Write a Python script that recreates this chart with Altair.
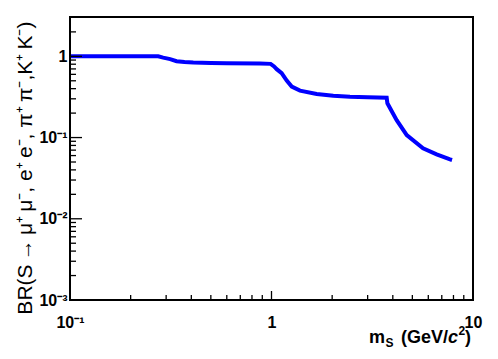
import altair as alt
import pandas as pd

# ---- data ----
m_values = [0.1, 0.274, 0.29, 0.314, 0.338, 0.37, 0.409, 0.5, 0.6, 0.877, 0.99,
            1.03, 1.061, 1.123, 1.19, 1.26, 1.385, 1.676, 2.026, 2.45, 3.0, 3.73,
            3.76, 4.18, 4.69, 5.65, 6.6, 7.69, 7.87]
br_values = [1.0, 1.0, 0.965, 0.924, 0.872, 0.85, 0.838, 0.828, 0.822, 0.815, 0.808,
             0.75, 0.695, 0.621, 0.503, 0.424, 0.378, 0.344, 0.328, 0.319, 0.314, 0.310,
             0.264, 0.164, 0.107, 0.0736, 0.062, 0.0538, 0.0529]

y_major = [0.001, 0.01, 0.1, 1]
y_major_labels = ["10⁻³", "10⁻²", "10⁻¹", "1"]
y_minor = [k * d for d in [0.001, 0.01, 0.1] for k in range(2, 10)] + [2]
x_major = [0.1, 1, 10]
x_major_labels = ["10⁻¹", "1", "10"]
x_minor = [k * d for d in [0.1, 1] for k in range(2, 10)]

y_title = "BR(S\u2009→\u2009μ⁺\u2009μ⁻, e⁺\u2009e⁻, π⁺\u2009π⁻,K⁺\u2009K⁻)"

W, H = 403, 283
FONT = "Liberation Sans"

xscale = alt.Scale(type="log", domain=[0.1, 10], nice=False)
yscale = alt.Scale(type="log", domain=[0.001, 3.05], nice=False)


def label_expr(vals, labels):
    expr = "''"
    for v, l in zip(vals, labels):
        expr = f"datum.value == {v} ? '{l}' : ({expr})"
    return expr


xaxis = alt.Axis(values=x_major, labelExpr=label_expr(x_major, x_major_labels),
                 ticks=False, tickSize=0, domain=False, grid=False,
                 labelFont=FONT, labelFontWeight="bold", labelFontSize=16,
                 labelPadding=14, labelColor="black", title=None,
                 labelFlush=False)
yaxis = alt.Axis(values=y_major, labelExpr=label_expr(y_major, y_major_labels),
                 ticks=False, tickSize=0, domain=False, grid=False,
                 labelFont=FONT, labelFontWeight="bold", labelFontSize=16,
                 labelPadding=3, labelColor="black", labelFlush=False,
                 title=y_title, titleFont=FONT, titleFontWeight="normal",
                 titleFontSize=21, titleColor="black", titleAngle=270,
                 titleAlign="right", titleBaseline="alphabetic",
                 titleX=-39, titleY=4)

df = pd.DataFrame({"m": m_values, "br": br_values})

line = alt.Chart(df).mark_line(color="#0000ff", strokeWidth=4).encode(
    x=alt.X("m:Q", scale=xscale, axis=xaxis),
    y=alt.Y("br:Q", scale=yscale, axis=yaxis),
)


def yticks(vals, length):
    return alt.Chart(pd.DataFrame({"v": vals})).mark_rule(color="black", strokeWidth=1.3).encode(
        y=alt.Y("v:Q", scale=yscale, axis=yaxis), x=alt.value(0), x2=alt.value(length))


def xticks(vals, length):
    return alt.Chart(pd.DataFrame({"v": vals})).mark_rule(color="black", strokeWidth=1.3).encode(
        x=alt.X("v:Q", scale=xscale, axis=xaxis), y=alt.value(H), y2=alt.value(H - length))


one = alt.Data(values=[{"a": 1}])

frame = alt.Chart(one).mark_rect(filled=False, stroke="black", strokeWidth=2).encode(
    x=alt.value(0), x2=alt.value(W), y=alt.value(0), y2=alt.value(H))


def txt(s, x, y, size, style="normal", align="left"):
    return alt.Chart(one).mark_text(text=s, font=FONT, fontWeight="bold", fontSize=size,
                                    fontStyle=style, align=align, baseline="alphabetic",
                                    color="black").encode(x=alt.value(x), y=alt.value(y))


xt_base = H + 43
title_parts = [
    txt("m", 299, xt_base, 18),
    txt("S", 315.5, xt_base + 4, 12),
    txt("(GeV/", 331, xt_base, 18),
    txt("c", 378, xt_base, 18, style="italic"),
    txt("2", 388.5, xt_base - 8, 12),
    txt(")", 395, xt_base, 18),
]

chart = alt.layer(
    line,
    yticks(y_major, 12), yticks(y_minor, 6),
    xticks(x_major, 9), xticks(x_minor, 5),
    frame,
    *title_parts,
).properties(
    width=W, height=H,
    autosize=alt.AutoSizeParams(type="none"),
    padding={"left": 62, "top": 9, "right": 17, "bottom": 51},
).configure_view(stroke=None).configure(background="white")

chart.save("out.html", embed_options={"renderer": "svg", "actions": False})
